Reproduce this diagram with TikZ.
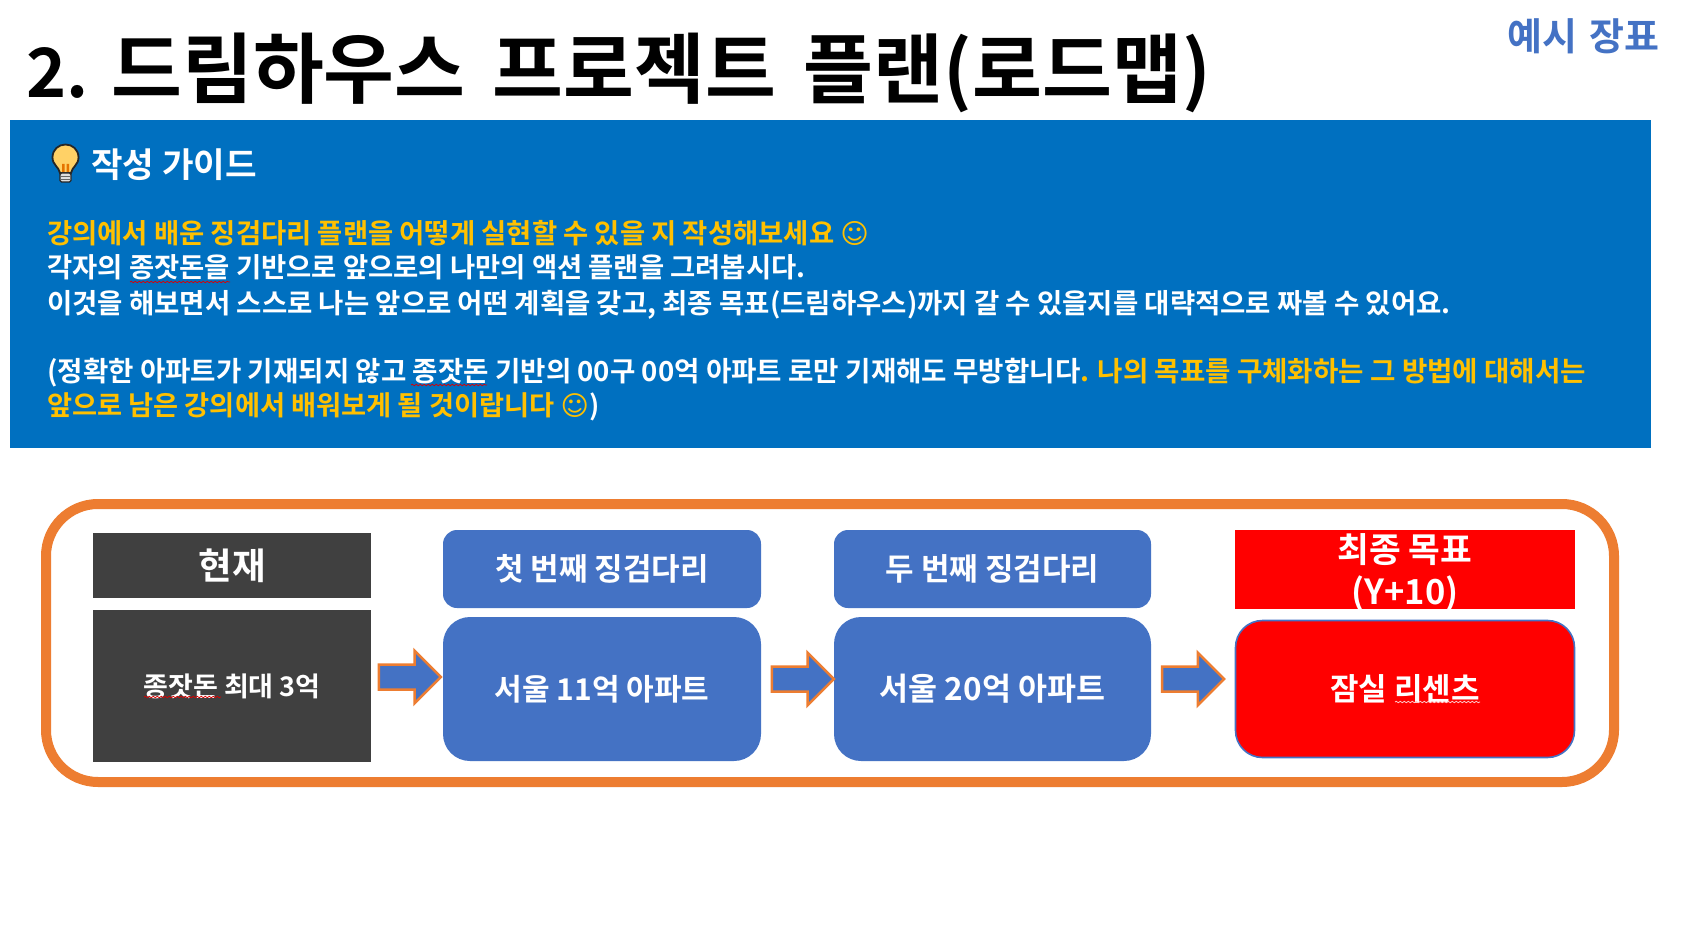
\documentclass[tikz,border=0pt]{standalone}
\usepackage{fontspec}
\setmainfont{Noto Sans CJK KR}
\newfontfamily\kb{Noto Sans CJK KR Bold}
\newfontfamily\sym{DejaVu Sans}
\usetikzlibrary{shapes.arrows,decorations.pathmorphing}
\definecolor{banner}{HTML}{0070C0}
\definecolor{acc}{HTML}{4472C4}
\definecolor{org}{HTML}{ED7D31}
\definecolor{gold}{HTML}{FFC000}
\definecolor{dark}{HTML}{404040}
\definecolor{redf}{HTML}{FF0000}
\definecolor{bulbc}{HTML}{FFD166}
\tikzset{
 linetext/.style={anchor=base west,inner sep=0pt,text=white,font=\kb\fontsize{#1}{30}\selectfont},
 bluebox/.style={fill=acc,text=white,inner sep=0pt,rounded corners=#1},
 boxfont/.style={font=\kb\fontsize{#1}{40}\selectfont},
 flowarrow/.style={single arrow,draw=org,fill=acc,line width=2.5pt,inner sep=0pt,outer sep=0pt,minimum height=62pt,minimum width=50pt,single arrow head extend=13.75pt,single arrow tip angle=90},
 spell/.style={draw=red!85!black,line width=0.8pt,decorate,decoration={snake,amplitude=0.7pt,segment length=4pt}},
}
\begin{document}
\begin{tikzpicture}[x=1pt,y=-1pt]
\useasboundingbox[fill=white] (0,0) rectangle (1681,925);
\node[anchor=base west,inner sep=0pt,font=\kb\fontsize{77}{80}\selectfont] (title) at (26,98) {{\fontsize{68}{80}\selectfont 2.}\hspace{23pt}드림하우스\hspace{27pt}프로젝트\hspace{28pt}{\fontsize{76}{80}\selectfont 플랜(로드맵)}};
\node[anchor=base east,inner sep=0pt,text=acc,font=\kb\fontsize{38}{40}\selectfont] (tag) at (1660,51) {예시\hspace{12pt}장표};
\fill[banner] (10,120) rectangle (1651,448);
% light bulb
\draw[black!85,line width=1.8pt,fill=bulbc] (60,173) .. controls (59,167) and (52.5,165) .. (52.5,157.5) .. controls (52.5,149.5) and (58.5,144.5) .. (65.5,144.5) .. controls (72.5,144.5) and (78.5,149.5) .. (78.5,157.5) .. controls (78.5,165) and (72,167) .. (71,173) -- cycle;
\fill[orange!90!black] (62,164) rectangle (64.5,172) (66.5,164) rectangle (69,172);
\draw[black!85,fill=gray!25,line width=1.4pt,rounded corners=1.5pt] (60,173) rectangle (71,182);
\draw[black!60,line width=0.9pt] (60,176) -- (71,176) (60,179) -- (71,179);
\node[anchor=base west,inner sep=0pt,text=white,font=\kb\fontsize{34.3}{40}\selectfont] (guide) at (91,178) {작성 가이드};
\node[linetext=27.4,text=gold] (l1) at (47,244) {강의에서 배운 징검다리 플랜을 어떻게 실현할 수 있을 지 작성해보세요 {\sym ☺}};
\node[linetext=27.4] (l2) at (47,278) {각자의 종잣돈을 기반으로 앞으로의 나만의 액션 플랜을 그려봅시다.};
\node[linetext=27.5] (l3) at (47,313) {이것을 해보면서 스스로 나는 앞으로 어떤 계획을 갖고, 최종 목표(드림하우스)까지 갈 수 있을지를 대략적으로 짜볼 수 있어요.};
\node[linetext=27.6] (l4) at (47,381) {(정확한 아파트가 기재되지 않고 종잣돈 기반의 00구 00억 아파트 로만 기재해도 무방합니다\textcolor{gold}{. 나의 목표를 구체화하는 그 방법에 대해서는}};
\node[linetext=27.25,text=gold] (l5) at (47,415) {앞으로 남은 강의에서 배워보게 될 것이랍니다 {\sym ☺}\textcolor{white}{)}};
\draw[spell] (130,282) -- (230,282);
\draw[spell] (411,385) -- (487,385);
% frame
\draw[org,line width=10pt,rounded corners=52pt] (46,504) rectangle (1614,782);
% current
\node[fill=dark,text=white,minimum width=278pt,minimum height=65pt,inner sep=0pt,boxfont=36.5] (now) at (232,565.5) {현재};
\node[fill=dark,text=white,minimum width=278pt,minimum height=152pt,inner sep=0pt,boxfont=27] (seed) at (232,686) {\raisebox{1pt}{종잣돈 최대 3억}};
\draw[spell] (144,697) -- (221,697);
% first
\node[bluebox=14pt,minimum width=318pt,minimum height=78pt,boxfont=31] (h1) at (602,569) {\raisebox{-1pt}{첫 번째 징검다리}};
\node[bluebox=27pt,minimum width=318pt,minimum height=144pt,boxfont=30] (b1) at (602,689) {\raisebox{-1pt}{서울 11억 아파트}};
% second
\node[bluebox=14pt,minimum width=317pt,minimum height=78pt,boxfont=31] (h2) at (992.5,569) {\raisebox{-1pt}{두 번째 징검다리}};
\node[bluebox=27pt,minimum width=317pt,minimum height=144pt,boxfont=31.5] (b2) at (992.5,689) {\raisebox{-1pt}{서울 20억 아파트}};
% goal
\node[fill=redf,minimum width=340pt,minimum height=79pt,inner sep=0pt] (h3) at (1405,569.5) {};
\node[inner sep=0pt,text=white,align=center,font=\kb\fontsize{34.5}{42}\selectfont] (h3text) at ([yshift=-3.5pt]h3.center) {최종 목표\\(Y+10)};
\node[fill=redf,draw=acc,line width=1.6pt,rounded corners=27pt,minimum width=339pt,minimum height=137pt,text=white,inner sep=0pt,boxfont=31] (b3) at (1405,689) {\raisebox{-1pt}{잠실 리센츠}};
\draw[draw=white!80!red,line width=0.8pt,decorate,decoration={snake,amplitude=0.7pt,segment length=4pt}] (1395,702) -- (1480,702);
% arrows
\node[flowarrow,anchor=east] (a1) at ([xshift=-2pt,yshift=12pt]b1.west) {\rule{0pt}{22.5pt}};
\node[flowarrow,anchor=east] (a2) at ([xshift=0pt,yshift=10pt]b2.west) {\rule{0pt}{22.5pt}};
\node[flowarrow,anchor=east] (a3) at ([xshift=73pt,yshift=10pt]b2.east) {\rule{0pt}{22.5pt}};
\end{tikzpicture}
\end{document}
